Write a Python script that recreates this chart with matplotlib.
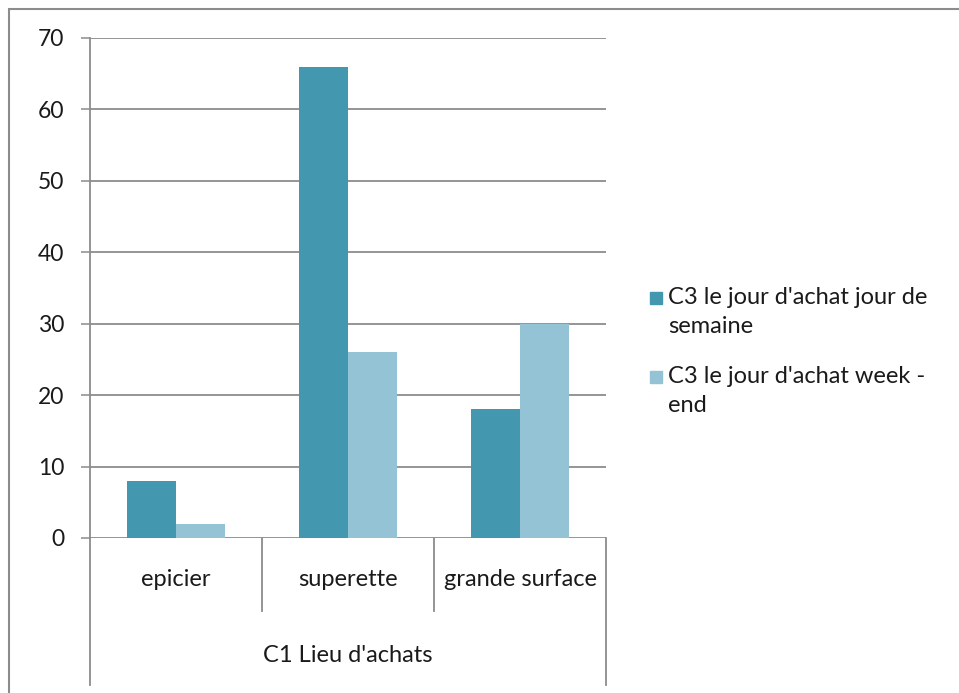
import matplotlib
matplotlib.use("Agg")
import matplotlib.pyplot as plt
import numpy as np
from matplotlib.patches import Rectangle

plt.rcParams["font.family"] = ["Lato", "DejaVu Sans"]

categories = ["epicier", "superette", "grande surface"]
axis_title = "C1 Lieu d'achats"
series_names = ["C3 le jour d'achat jour de\nsemaine", "C3 le jour d'achat week -\nend"]
semaine = [8, 66, 18]
week_end = [2, 26, 30]
y_ticks = [0, 10, 20, 30, 40, 50, 60, 70]

dark = "#4397af"
light = "#93c3d5"
grid_col = "#8c8c8c"
txt_col = "#1a1a1a"
fs = 17

W, H = 959, 693
fig = plt.figure(figsize=(W / 100, H / 100), dpi=100)

# outer chart border (runs off the right and bottom edges)
fig.patches.append(Rectangle((9 / W, -0.05), 1.1, 1 - 9 / H + 0.05,
                             transform=fig.transFigure, fill=False,
                             edgecolor="#8c8c8c", linewidth=1.5))

ax = fig.add_axes([90 / W, (H - 538) / H, (606 - 90) / W, 500 / H])

x = np.arange(len(categories))
bw = 0.285
ax.bar(x - bw / 2, semaine, bw, color=dark, zorder=3)
ax.bar(x + bw / 2, week_end, bw, color=light, zorder=3)

ax.set_xlim(-0.5, len(categories) - 0.5)
ax.set_ylim(0, 70)
ax.set_yticks(y_ticks)
ax.yaxis.grid(True, color=grid_col, linewidth=1.3, zorder=0)
ax.tick_params(axis="y", length=6.5, width=1.1, color=grid_col, pad=12,
               labelsize=16.5, labelcolor=txt_col)
ax.set_xticks([])
for s in ["top", "right", "bottom"]:
    ax.spines[s].set_visible(False)
ax.spines["left"].set_color(grid_col)
ax.spines["left"].set_linewidth(1.3)

# category axis below the plot
trans = ax.get_xaxis_transform()
for b in np.arange(len(categories) + 1) - 0.5:
    outer = b in (-0.5, len(categories) - 0.5)
    ax.plot([b, b], [0, -0.294 if outer else -0.146], color=grid_col,
            linewidth=1.3, transform=trans, clip_on=False)
for i, c in enumerate(categories):
    ax.text(i, -0.084, c, transform=trans, ha="center", va="center",
            fontsize=fs, color=txt_col)
ax.text(1, -0.234, axis_title, transform=trans, ha="center", va="center",
        fontsize=fs, color=txt_col)

# legend drawn by hand so the swatch sits on the first text line
for name, col, y1 in zip(series_names, [dark, light], [298, 377]):
    fig.patches.append(Rectangle((650 / W, 1 - (y1 + 6) / H), 12 / W, 12 / H,
                                 transform=fig.transFigure, color=col))
    fig.text(668 / W, 1 - (y1 - 11) / H, name, ha="left", va="top",
             fontsize=fs, color=txt_col, linespacing=1.45)

fig.savefig("out.png", dpi=100)
